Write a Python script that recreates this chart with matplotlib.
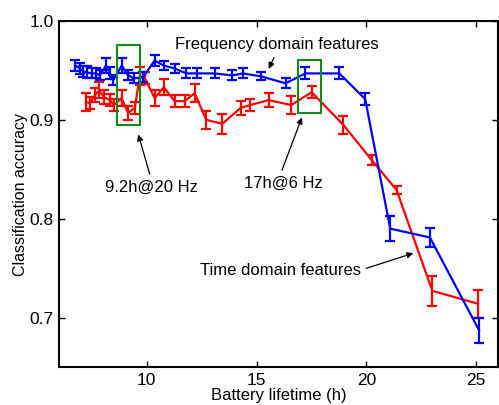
import matplotlib
matplotlib.use("Agg")
import matplotlib.pyplot as plt
from matplotlib.patches import Rectangle

plt.rcParams['font.family'] = ['Liberation Sans', 'DejaVu Sans']

# Frequency domain features (blue)
freq_x = [6.73, 6.95, 7.10, 7.29, 7.49, 7.67, 7.86, 8.14, 8.32, 8.47, 8.86, 9.15, 9.41, 9.82,
          10.36, 10.77, 11.27, 11.80, 12.29, 13.09, 13.88, 14.38, 15.21, 16.32, 17.23, 18.77,
          19.95, 21.09, 22.90, 25.14]
freq_y = [0.955, 0.952, 0.949, 0.948, 0.947, 0.947, 0.945, 0.955, 0.947, 0.940, 0.955, 0.945,
          0.942, 0.943, 0.960, 0.955, 0.952, 0.947, 0.947, 0.947, 0.945, 0.947, 0.944, 0.937,
          0.947, 0.947, 0.921, 0.790, 0.781, 0.687]
freq_err = [0.006, 0.006, 0.006, 0.006, 0.005, 0.005, 0.005, 0.008, 0.006, 0.005, 0.008, 0.005,
            0.005, 0.005, 0.006, 0.005, 0.005, 0.005, 0.005, 0.005, 0.005, 0.005, 0.004, 0.005,
            0.006, 0.006, 0.006, 0.013, 0.010, 0.013]

# Time domain features (red)
time_x = [7.23, 7.41, 7.64, 7.83, 8.05, 8.32, 8.50, 8.85, 9.15, 9.45, 9.68, 9.91, 10.36, 10.77,
          11.27, 11.73, 12.18, 12.71, 13.44, 14.27, 14.71, 15.55, 16.58, 17.51, 18.95, 20.26,
          21.38, 23.01, 25.09]
time_y = [0.918, 0.917, 0.925, 0.930, 0.923, 0.920, 0.915, 0.922, 0.907, 0.912, 0.944, 0.942,
          0.922, 0.933, 0.919, 0.919, 0.927, 0.900, 0.896, 0.912, 0.915, 0.920, 0.915, 0.928,
          0.895, 0.859, 0.829, 0.727, 0.714]
time_err = [0.009, 0.006, 0.007, 0.008, 0.007, 0.006, 0.006, 0.008, 0.007, 0.006, 0.009, 0.006,
            0.008, 0.008, 0.006, 0.006, 0.009, 0.009, 0.010, 0.007, 0.006, 0.007, 0.009, 0.006,
            0.009, 0.005, 0.004, 0.015, 0.014]

x_ticks = [10, 15, 20, 25]
y_ticks = [0.7, 0.8, 0.9, 1.0]

fig = plt.figure(figsize=(4.99, 4.05), dpi=100)
ax = fig.add_axes([0.1182, 0.0938, 0.8798, 0.8543])

ax.errorbar(freq_x, freq_y, yerr=freq_err, color='#0000ff', lw=1.6, capsize=3.5,
            elinewidth=1.6, capthick=1.6, zorder=3)
ax.errorbar(time_x, time_y, yerr=time_err, color='#ff0000', lw=1.6, capsize=3.5,
            elinewidth=1.6, capthick=1.6, zorder=2)

# Green highlight boxes
ax.add_patch(Rectangle((8.64, 0.895), 1.04, 0.081, fill=False, ec='#138a13', lw=1.5, zorder=4))
ax.add_patch(Rectangle((16.9, 0.907), 1.04, 0.054, fill=False, ec='#138a13', lw=1.5, zorder=4))

ap = dict(arrowstyle='-|>', color='black', lw=0.9, mutation_scale=9)
fs = 12
ax.annotate('Frequency domain features', xy=(15.5, 0.949), xytext=(11.27, 0.976),
            fontsize=fs, ha='left', va='center', arrowprops=dict(ap, relpos=(0.5, 0.0)))
ax.annotate('9.2h@20 Hz', xy=(9.58, 0.888), xytext=(8.09, 0.832),
            fontsize=fs, ha='left', va='center', arrowprops=dict(ap, relpos=(0.5, 1.0)))
ax.annotate('17h@6 Hz', xy=(17.11, 0.905), xytext=(14.45, 0.836),
            fontsize=fs, ha='left', va='center', arrowprops=dict(ap, relpos=(0.45, 1.0)))
ax.annotate('Time domain features', xy=(22.26, 0.766), xytext=(12.41, 0.748),
            fontsize=fs, ha='left', va='center', arrowprops=dict(ap, relpos=(1.0, 0.5)))

ax.set_xlim(6, 26)
ax.set_ylim(0.65, 1.0)
ax.set_xticks(x_ticks)
ax.set_yticks(y_ticks)
ax.set_yticklabels(['%.1f' % v for v in y_ticks])
ax.tick_params(direction='in', length=4, width=1, top=True, right=True, labelsize=12.5, pad=4)
for s in ax.spines.values():
    s.set_linewidth(1.5)
ax.set_xlabel('Battery lifetime (h)', fontsize=12, labelpad=0)
ax.set_ylabel('Classification accuracy', fontsize=11.5, labelpad=1)

fig.savefig('out.png', dpi=100)
